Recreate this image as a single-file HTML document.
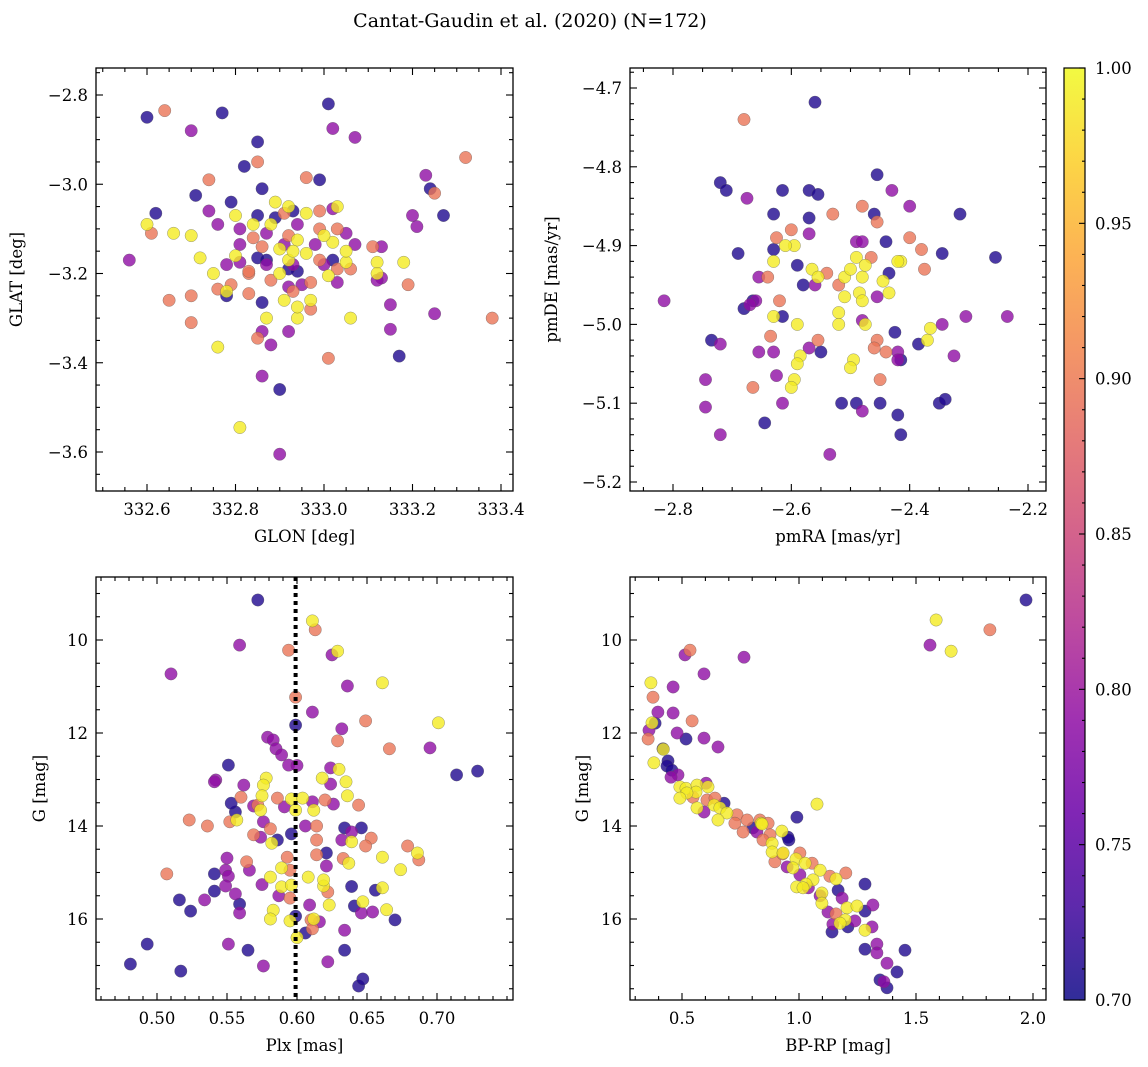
<!DOCTYPE html>
<html><head><meta charset="utf-8">
<style>
html,body{margin:0;padding:0;background:#fff;}
svg{display:block;font-family:"DejaVu Serif","Liberation Serif",serif;}
</style></head>
<body>
<svg id="fig" width="1148" height="1067" viewBox="0 0 1148 1067" xmlns="http://www.w3.org/2000/svg">
<defs>
<linearGradient id="plasma" x1="0" y1="1" x2="0" y2="0">
<stop offset="0" stop-color="#0d0887"/><stop offset="0.1" stop-color="#41049d"/><stop offset="0.2" stop-color="#6a00a8"/><stop offset="0.3" stop-color="#8f0da4"/><stop offset="0.4" stop-color="#b12a90"/><stop offset="0.5" stop-color="#cc4778"/><stop offset="0.6" stop-color="#e16462"/><stop offset="0.7" stop-color="#f2844b"/><stop offset="0.8" stop-color="#fca636"/><stop offset="0.9" stop-color="#fcce25"/><stop offset="1" stop-color="#f0f921"/>
</linearGradient>
</defs>
<text x="530" y="27" text-anchor="middle" font-size="19">Cantat-Gaudin et al. (2020) (N=172)</text>
</svg>
<script>
// ---- Panel 1: GLON vs GLAT ----
const tlGlon=[332.60,332.64,332.77,332.70,333.01,333.02,333.07,333.32,332.85,332.85,332.82,333.23,333.24,333.25,333.27,333.20,333.21,332.74,332.71,332.86,332.96,332.99,332.62,332.60,332.61,332.66,332.70,332.56,332.65,332.70,332.70,332.76,332.72,332.74,332.79,332.80,332.81,332.76,332.75,332.78,332.76,332.78,332.80,332.81,332.83,332.83,332.86,332.87,332.86,332.85,332.88,332.86,332.90,332.81,332.90,
332.85,332.87,332.88,332.89,332.91,332.89,332.92,332.93,332.96,332.99,333.02,333.03,333.03,333.05,333.02,333.02,333.05,333.05,333.06,333.11,333.12,333.13,333.12,333.13,333.18,333.19,333.15,333.15,333.17,333.12,333.06,333.01,332.95,332.97,332.97,332.97,332.94,332.92,332.91,332.92,332.92,332.93,332.94,332.91,332.94,332.94,332.92,332.90,332.87,332.86,332.84,332.84,332.85,332.87,332.88,332.92,332.90,332.93,332.93,332.96,332.99,332.98,333.00,332.99,333.00,333.01,333.03,333.03,332.94,332.83,332.81,332.78,332.79,333.07,333.38,333.25];
const tlGlat=[-2.85,-2.835,-2.84,-2.88,-2.82,-2.875,-2.895,-2.94,-2.905,-2.95,-2.96,-2.98,-3.01,-3.02,-3.07,-3.07,-3.095,-2.99,-3.025,-3.01,-2.985,-2.99,-3.065,-3.09,-3.11,-3.11,-3.115,-3.17,-3.26,-3.25,-3.31,-3.365,-3.165,-3.06,-3.04,-3.07,-3.10,-3.09,-3.20,-3.24,-3.235,-3.25,-3.16,-3.135,-3.20,-3.245,-3.265,-3.30,-3.33,-3.345,-3.36,-3.43,-3.46,-3.545,-3.605,
-3.165,-3.11,-3.09,-3.075,-3.065,-3.04,-3.05,-3.06,-3.065,-3.06,-3.055,-3.05,-3.10,-3.11,-3.13,-3.17,-3.175,-3.15,-3.19,-3.14,-3.175,-3.14,-3.20,-3.21,-3.175,-3.225,-3.27,-3.325,-3.385,-3.215,-3.30,-3.39,-3.225,-3.22,-3.26,-3.28,-3.30,-3.33,-3.26,-3.23,-3.17,-3.18,-3.195,-3.135,-3.125,-3.09,-3.115,-3.145,-3.18,-3.14,-3.12,-3.09,-3.07,-3.17,-3.215,-3.19,-3.20,-3.15,-3.24,-3.155,-3.10,-3.135,-3.115,-3.17,-3.18,-3.205,-3.19,-3.22,-3.275,-3.195,-3.175,-3.18,-3.225,-3.135,-3.30,-3.29];
const tlProb=[0.71,0.895,0.71,0.79,0.71,0.79,0.79,0.895,0.71,0.895,0.71,0.79,0.71,0.895,0.71,0.79,0.79,0.895,0.71,0.71,0.895,0.71,0.71,0.99,0.895,0.99,0.99,0.79,0.895,0.895,0.895,0.99,0.99,0.79,0.71,0.99,0.79,0.79,0.99,0.99,0.895,0.71,0.99,0.79,0.895,0.895,0.71,0.99,0.79,0.895,0.79,0.79,0.71,0.99,0.79,
0.71,0.79,0.99,0.71,0.895,0.99,0.99,0.71,0.99,0.895,0.79,0.99,0.895,0.79,0.99,0.71,0.99,0.99,0.895,0.895,0.99,0.79,0.99,0.79,0.99,0.895,0.79,0.79,0.71,0.79,0.99,0.895,0.79,0.895,0.99,0.895,0.99,0.79,0.99,0.79,0.99,0.79,0.71,0.79,0.99,0.79,0.895,0.99,0.79,0.895,0.895,0.99,0.71,0.71,0.895,0.71,0.99,0.99,0.895,0.99,0.895,0.79,0.99,0.895,0.79,0.99,0.895,0.79,0.99,0.895,0.79,0.79,0.895,0.79,0.895,0.79];

// ---- Panel 2: pmRA vs pmDE ----
const trPmra=[-2.68,-2.56,-2.72,-2.71,-2.615,-2.675,-2.455,-2.43,-2.40,-2.315,-2.255,-2.40,-2.38,-2.375,-2.415,-2.69,-2.815,-2.735,-2.745,-2.745,-2.72,-2.645,-2.665,-2.625,-2.615,-2.535,-2.515,-2.49,-2.48,-2.45,-2.42,-2.415,-2.45,-2.415,-2.42,-2.325,-2.345,-2.305,-2.235,-2.35,-2.34,-2.345,-2.57,-2.555,-2.53,-2.46,-2.455,-2.49,-2.44,-2.63,-2.60,-2.57,-2.57,-2.595,-2.61,-2.63,-2.64,-2.655,-2.66,-2.67,-2.68,-2.665,-2.62,-2.63,-2.615,-2.59,-2.555,-2.57,-2.55,-2.585,-2.59,-2.595,-2.60,-2.565,-2.56,-2.58,-2.59,-2.555,-2.54,-2.52,-2.52,-2.52,-2.51,-2.51,-2.50,-2.49,-2.485,-2.48,-2.48,-2.475,-2.495,-2.50,-2.48,-2.455,-2.48,-2.465,-2.455,-2.46,-2.44,-2.42,-2.425,-2.37,-2.365,-2.385,-2.42,-2.435,-2.435,-2.445,-2.475,-2.635,-2.63,-2.655,-2.72,-2.63,-2.625,-2.48];
const trPmde=[-4.74,-4.718,-4.82,-4.83,-4.83,-4.84,-4.81,-4.83,-4.85,-4.86,-4.915,-4.89,-4.905,-4.93,-4.92,-4.91,-4.97,-5.02,-5.07,-5.105,-5.14,-5.125,-5.08,-5.065,-5.10,-5.165,-5.10,-5.10,-5.11,-5.10,-5.115,-5.14,-5.07,-5.045,-5.035,-5.04,-5.00,-4.99,-4.99,-5.10,-5.095,-4.91,-4.83,-4.835,-4.86,-4.86,-4.87,-4.895,-4.895,-4.86,-4.88,-4.885,-4.865,-4.90,-4.90,-4.92,-4.94,-4.94,-4.97,-4.975,-4.98,-4.97,-4.97,-4.99,-4.99,-5.00,-5.02,-5.03,-5.035,-5.04,-5.05,-5.07,-5.08,-4.93,-4.95,-4.95,-4.925,-4.94,-4.935,-4.95,-4.985,-5.00,-4.94,-4.965,-4.93,-4.915,-4.96,-4.94,-4.97,-5.00,-5.045,-5.055,-4.995,-4.965,-4.895,-4.915,-5.02,-5.03,-5.035,-5.045,-5.01,-5.02,-5.005,-5.025,-4.92,-4.935,-4.96,-4.945,-4.925,-5.015,-5.035,-5.035,-5.025,-4.905,-4.89,-4.85];
const trProb=[0.895,0.71,0.71,0.71,0.71,0.79,0.71,0.79,0.79,0.71,0.71,0.895,0.895,0.895,0.99,0.71,0.79,0.71,0.79,0.79,0.79,0.71,0.895,0.79,0.79,0.79,0.71,0.71,0.79,0.71,0.71,0.71,0.895,0.71,0.79,0.79,0.79,0.79,0.79,0.71,0.71,0.71,0.71,0.71,0.895,0.71,0.895,0.79,0.71,0.71,0.895,0.79,0.71,0.99,0.99,0.99,0.895,0.79,0.79,0.79,0.71,0.71,0.895,0.99,0.71,0.99,0.895,0.79,0.71,0.99,0.99,0.99,0.99,0.99,0.79,0.71,0.71,0.99,0.895,0.895,0.99,0.99,0.99,0.99,0.99,0.99,0.99,0.99,0.99,0.99,0.99,0.99,0.79,0.79,0.79,0.895,0.895,0.895,0.895,0.79,0.71,0.99,0.99,0.71,0.99,0.71,0.99,0.99,0.99,0.895,0.79,0.79,0.79,0.71,0.895,0.895];

// ---- Panel 3: Plx vs G ----
const blPlx=[0.572,0.611,0.613,0.594,0.559,0.629,0.625,0.510,0.661,0.636,0.599,0.599,0.611,0.649,0.701,0.695,0.666,0.714,0.729,0.579,0.583,0.585,0.589,0.629,0.632,0.594,0.551,0.542,0.562,0.624,0.618,0.624,0.635,0.578,0.576,0.575,0.560,0.572,0.586,0.596,0.599,0.604,0.591,0.611,0.620,0.626,0.636,0.644,0.612,0.556,0.552,0.557,0.536,0.523,0.541,0.553,0.569,0.574,0.576,0.569,0.574,0.581,0.582,0.586,0.596,0.606,0.614,0.614,0.614,0.621,0.634,0.632,0.639,0.646,0.653,0.639,0.649,0.661,0.679,0.686,0.687,0.674,0.637,0.621,0.593,0.595,0.564,0.566,0.550,0.549,0.551,0.549,0.556,0.541,0.559,0.559,0.534,0.516,0.524,0.507,0.551,0.493,0.481,0.517,0.565,0.576,0.575,0.581,0.589,0.583,0.581,0.596,0.595,0.599,0.595,0.609,0.610,0.619,0.619,0.622,0.623,0.616,0.611,0.606,0.634,0.634,0.622,0.644,0.647,0.641,0.646,0.647,0.654,0.656,0.664,0.670,0.661,0.639,0.608,0.612,0.630,0.600,0.587,0.633,0.541,0.589,0.600];
const blG=[9.14,9.59,9.78,10.22,10.11,10.24,10.32,10.73,10.92,10.99,11.23,11.83,11.55,11.74,11.78,12.32,12.34,12.90,12.82,12.09,12.15,12.34,12.47,12.17,11.91,12.69,12.69,13.01,13.12,12.75,12.97,13.10,13.05,12.97,13.12,13.35,13.38,13.55,13.40,13.42,13.66,13.40,13.59,13.48,13.44,13.53,13.35,13.55,13.66,13.70,13.91,13.87,14.00,13.87,13.05,13.51,13.57,13.66,13.91,14.19,14.24,14.06,14.37,14.30,14.17,14.00,14.00,14.30,14.62,14.58,14.04,14.30,14.13,14.04,14.26,14.34,14.43,14.67,14.43,14.58,14.73,14.94,14.80,14.86,14.67,14.95,14.77,14.95,14.69,14.95,15.08,15.29,15.46,15.03,15.68,15.87,15.59,15.59,15.83,15.03,16.54,16.54,16.97,17.12,16.67,17.01,15.26,15.10,15.31,15.81,16.00,15.27,15.55,15.94,16.04,15.70,16.02,15.29,15.16,15.42,15.70,16.06,16.21,16.30,16.24,16.67,16.92,17.44,17.29,15.72,15.87,15.63,15.85,15.38,15.80,16.02,15.33,15.30,15.10,16.00,12.78,16.40,15.50,14.70,15.40,14.90,12.70];
const blProb=[0.71,0.99,0.895,0.895,0.79,0.99,0.79,0.79,0.99,0.79,0.895,0.71,0.79,0.895,0.99,0.79,0.895,0.71,0.71,0.79,0.79,0.79,0.79,0.895,0.79,0.79,0.71,0.79,0.79,0.79,0.99,0.79,0.99,0.99,0.99,0.99,0.895,0.895,0.895,0.99,0.99,0.99,0.79,0.79,0.895,0.79,0.99,0.895,0.99,0.71,0.895,0.99,0.895,0.895,0.79,0.71,0.79,0.99,0.79,0.895,0.79,0.895,0.99,0.71,0.71,0.79,0.895,0.895,0.895,0.71,0.71,0.79,0.79,0.71,0.895,0.99,0.895,0.99,0.895,0.99,0.895,0.99,0.99,0.79,0.895,0.895,0.895,0.79,0.79,0.79,0.79,0.79,0.79,0.71,0.71,0.79,0.79,0.71,0.71,0.895,0.79,0.71,0.71,0.71,0.71,0.79,0.79,0.99,0.99,0.99,0.99,0.99,0.895,0.71,0.99,0.79,0.895,0.99,0.99,0.895,0.99,0.79,0.895,0.71,0.79,0.71,0.79,0.71,0.71,0.71,0.79,0.99,0.79,0.71,0.99,0.71,0.99,0.71,0.99,0.99,0.99,0.99,0.79,0.895,0.71,0.99,0.79];

// ---- Panel 4: BP-RP vs G ----
const brBprp=[1.97,1.586,1.816,1.56,1.65,0.534,0.513,0.765,0.594,0.367,0.462,0.376,0.397,0.462,0.543,0.372,0.385,0.359,0.479,0.517,0.594,0.355,0.654,0.419,0.42,0.44,0.38,0.436,0.457,0.483,0.453,0.491,0.517,0.564,0.611,0.603,0.56,0.521,0.491,0.547,0.607,0.641,0.637,0.68,0.564,0.594,0.662,0.692,0.654,0.735,0.778,0.726,0.833,0.838,0.868,0.803,0.927,0.991,0.761,0.82,0.953,0.876,1.077,0.842,0.957,0.846,0.885,0.885,0.932,1.004,0.897,0.987,1.026,1.056,0.949,0.974,1.09,1.20,1.132,1.158,1.004,1.282,1.06,1.03,0.99,1.017,1.04,1.098,1.167,1.184,1.098,1.124,1.205,1.248,1.282,1.316,1.158,1.197,1.175,1.145,1.239,1.209,1.282,1.312,1.141,1.333,1.282,1.453,1.333,1.376,1.419,1.346,1.363,1.376,1.09,0.93];
const brG=[9.14,9.57,9.78,10.11,10.24,10.22,10.32,10.37,10.73,10.92,11.01,11.23,11.55,11.57,11.74,11.78,11.79,11.94,12.0,12.13,12.11,12.13,12.30,12.34,12.35,12.60,12.64,12.71,12.80,12.90,12.95,13.16,13.19,13.12,13.16,13.08,13.27,13.29,13.40,13.38,13.44,13.40,13.55,13.51,13.61,13.70,13.61,13.72,13.87,13.76,13.87,13.94,13.87,13.94,13.94,14.04,14.11,13.81,14.13,14.13,14.24,14.19,13.53,13.96,14.30,14.30,14.37,14.56,14.58,14.58,14.77,14.71,14.80,14.80,14.88,14.90,14.95,15.01,15.08,15.14,15.05,15.25,15.16,15.25,15.31,15.33,15.33,15.44,15.38,15.55,15.66,15.85,15.76,15.72,15.83,15.70,15.89,16.02,16.09,16.11,16.04,16.17,16.24,16.17,16.28,16.54,16.65,16.67,16.73,16.95,17.14,17.31,17.35,17.48,15.50,14.60];
const brProb=[0.71,0.99,0.895,0.79,0.99,0.895,0.79,0.79,0.79,0.99,0.79,0.895,0.79,0.79,0.895,0.99,0.71,0.79,0.79,0.71,0.79,0.895,0.79,0.71,0.99,0.71,0.99,0.71,0.71,0.79,0.79,0.99,0.99,0.99,0.99,0.79,0.99,0.99,0.99,0.895,0.895,0.895,0.99,0.71,0.99,0.79,0.99,0.99,0.99,0.895,0.895,0.895,0.895,0.99,0.895,0.71,0.99,0.71,0.895,0.79,0.71,0.895,0.99,0.99,0.71,0.895,0.99,0.99,0.99,0.895,0.895,0.99,0.99,0.895,0.79,0.99,0.99,0.895,0.895,0.99,0.79,0.71,0.99,0.99,0.99,0.99,0.79,0.99,0.71,0.79,0.99,0.79,0.99,0.99,0.71,0.79,0.895,0.99,0.99,0.79,0.79,0.71,0.99,0.79,0.71,0.79,0.71,0.71,0.79,0.79,0.71,0.71,0.79,0.71,0.79,0.895];

const cbTicks=[0.70,0.75,0.80,0.85,0.90,0.95,1.00];
const plxLine=0.599;

const NS='http://www.w3.org/2000/svg';
const svg=document.getElementById('fig');
function mk(tag,attrs,parent){const e=document.createElementNS(NS,tag);for(const k in attrs)e.setAttribute(k,attrs[k]);(parent||svg).appendChild(e);return e;}
function lin(d0,d1,p0,p1){return v=>p0+(v-d0)*(p1-p0)/(d1-d0);}
const stops=[[13,8,135],[65,4,157],[106,0,168],[143,13,164],[177,42,144],[204,71,120],[225,100,98],[242,132,75],[252,166,54],[252,206,37],[240,249,33]];
function plasma(t){if(!isFinite(t))t=0.3;t=Math.max(0,Math.min(1,t));const f=t*10,i=Math.min(9,Math.floor(f)),u=f-i;const a=stops[i],b=stops[i+1];return 'rgb('+a.map((c,k)=>Math.round(c+(b[k]-c)*u)).join(',')+')';}
function fmt(v,d){return (v<0?'\u2212':'')+Math.abs(v).toFixed(d);}

function panel(cfg){
  const g=mk('g',{});
  
  
  const {x0,x1,y0,y1}=cfg;
  const sx=cfg.sx, sy=cfg.sy;
  const n=Math.min(cfg.xs.length,cfg.ys.length);
  const pr=i=>(cfg.cs[i]===undefined?0.8:cfg.cs[i]);
  const idx=[];for(let i=0;i<n;i++)idx.push(i);
  idx.sort((a,b)=>pr(a)-pr(b));
  const clip='clip'+cfg.name;
  const cp=mk('clipPath',{id:clip},g);mk('rect',{x:x0,y:y0,width:x1-x0,height:y1-y0},cp);
  const pg=mk('g',{'clip-path':'url(#'+clip+')'},g);
  
  
  idx.forEach(i=>{
    const c=mk('circle',{cx:sx(cfg.xs[i]).toFixed(1),cy:sy(cfg.ys[i]).toFixed(1),r:6.2,fill:plasma((pr(i)-0.7)/0.3),'fill-opacity':0.8,stroke:'#555','stroke-width':0.5,'stroke-opacity':0.6},pg);
    
    
  });
  if(cfg.extra)cfg.extra(pg);
  const fr=mk('rect',{x:x0,y:y0,width:x1-x0,height:y1-y0,fill:'none',stroke:'#000','stroke-width':1.3},g);
  
  
  const tk=mk('g',{stroke:'#000','stroke-width':1.1},g);
  const xa=mk('g',{},g);
  
  
  const ya=mk('g',{},g);
  
  
  const xmin=Math.min(cfg.xdom[0],cfg.xdom[1]), xmax=Math.max(cfg.xdom[0],cfg.xdom[1]);
  for(let v=Math.ceil(xmin/cfg.xminor-1e-6)*cfg.xminor; v<=xmax+1e-9; v+=cfg.xminor){
    const p=sx(v); if(p<x0+0.5||p>x1-0.5)continue;
    const major=cfg.xticks.some(t=>Math.abs(t-v)<cfg.xminor/3);
    const L=major?7:4;
    mk('line',{x1:p,y1:y1,x2:p,y2:y1-L},tk);mk('line',{x1:p,y1:y0,x2:p,y2:y0+L},tk);
  }
  cfg.xticks.forEach(t=>{const tx=mk('text',{x:sx(t),y:y1+24,'text-anchor':'middle','font-size':16.5},xa);tx.textContent=fmt(t,cfg.xdec);
    });
  const ymin=Math.min(cfg.ydom[0],cfg.ydom[1]), ymax=Math.max(cfg.ydom[0],cfg.ydom[1]);
  for(let v=Math.ceil(ymin/cfg.yminor-1e-6)*cfg.yminor; v<=ymax+1e-9; v+=cfg.yminor){
    const p=sy(v); if(p<y0+0.5||p>y1-0.5)continue;
    const major=cfg.yticks.some(t=>Math.abs(t-v)<cfg.yminor/3);
    const L=major?7:4;
    mk('line',{x1:x0,y1:p,x2:x0+L,y2:p},tk);mk('line',{x1:x1,y1:p,x2:x1-L,y2:p},tk);
  }
  cfg.yticks.forEach(t=>{const tx=mk('text',{x:x0-8,y:sy(t)+6,'text-anchor':'end','font-size':16.5},ya);tx.textContent=fmt(t,cfg.ydec);
    });
  const xl=mk('text',{x:(x0+x1)/2,y:y1+51,'text-anchor':'middle','font-size':16.5},xa);xl.textContent=cfg.xlabel;
  
  const yx=cfg.ylx, yy=(y0+y1)/2;
  const yl=mk('text',{x:yx,y:yy,'text-anchor':'middle','font-size':16.5,transform:'rotate(-90 '+yx+' '+yy+')'},ya);yl.textContent=cfg.ylabel;
  
}

const sxTL=lin(332.6,333.4,147,501), syTL=lin(-2.8,-3.6,95,452);
panel({name:'panel-glon-glat',x0:96,x1:513,y0:68,y1:491,sx:sxTL,sy:syTL,xs:tlGlon,ys:tlGlat,cs:tlProb,
  xdom:[332.48,333.43],ydom:[-2.73,-3.69],xticks:[332.6,332.8,333.0,333.2,333.4],yticks:[-2.8,-3.0,-3.2,-3.4,-3.6],xminor:0.05,yminor:0.05,xdec:1,ydec:1,
  xlabel:'GLON [deg]',ylabel:'GLAT [deg]',ylx:22});
const sxTR=lin(-2.8,-2.2,673,1028), syTR=lin(-4.7,-5.2,88,482);
panel({name:'panel-pmra-pmde',x0:630,x1:1046,y0:68,y1:491,sx:sxTR,sy:syTR,xs:trPmra,ys:trPmde,cs:trProb,
  xdom:[-2.9,-2.15],ydom:[-4.66,-5.22],xticks:[-2.8,-2.6,-2.4,-2.2],yticks:[-4.7,-4.8,-4.9,-5.0,-5.1,-5.2],xminor:0.05,yminor:0.02,xdec:1,ydec:1,
  xlabel:'pmRA [mas/yr]',ylabel:'pmDE [mas/yr]',ylx:557});
const sxBL=lin(0.5,0.7,157,437), syBL=lin(10,16,640,919);
panel({name:'panel-plx-g',x0:96,x1:513,y0:577,y1:1000,sx:sxBL,sy:syBL,xs:blPlx,ys:blG,cs:blProb,
  xdom:[0.45,0.76],ydom:[8.6,17.8],xticks:[0.50,0.55,0.60,0.65,0.70],yticks:[10,12,14,16],xminor:0.01,yminor:0.5,xdec:2,ydec:0,
  xlabel:'Plx [mas]',ylabel:'G [mag]',ylx:45,
  extra:(pg)=>{const l=mk('line',{x1:sxBL(plxLine),y1:577,x2:sxBL(plxLine),y2:1000,stroke:'#000','stroke-width':4,'stroke-dasharray':'4 4'},pg);
    }});
const sxBR=lin(0.5,2.0,682,1033), syBR=lin(10,16,640,919);
panel({name:'panel-bprp-g',x0:630,x1:1046,y0:577,y1:1000,sx:sxBR,sy:syBR,xs:brBprp,ys:brG,cs:brProb,
  xdom:[0.25,2.1],ydom:[8.6,17.8],xticks:[0.5,1.0,1.5,2.0],yticks:[10,12,14,16],xminor:0.1,yminor:0.5,xdec:1,ydec:0,
  xlabel:'BP-RP [mag]',ylabel:'G [mag]',ylx:588});

// colorbar
const cb=mk('g',{});


const cy=lin(0.70,1.00,1000,68);
mk('rect',{x:1064,y:68,width:21,height:932,fill:'url(#plasma)','fill-opacity':0.85},cb);
mk('rect',{x:1064,y:68,width:21,height:932,fill:'none',stroke:'#000','stroke-width':1.2},cb);
for(let v=0.70; v<=1.0001; v+=0.01){const p=cy(v);const major=cbTicks.some(t=>Math.abs(t-v)<0.003);
  mk('line',{x1:1085,y1:p,x2:1085-(major?6:3),y2:p,stroke:'#000','stroke-width':1.1},cb);}
cbTicks.forEach(t=>{const tx=mk('text',{x:1095,y:cy(t)+6,'font-size':16.5},cb);tx.textContent=t.toFixed(2);
  });
</script>
</body></html>
